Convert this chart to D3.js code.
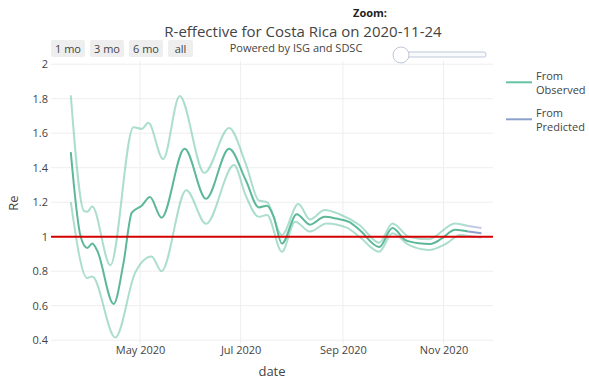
<!DOCTYPE html>
<html><head><meta charset="utf-8">
<script src="https://cdn.jsdelivr.net/npm/d3@7"></script>
<style>body{margin:0;background:#fff;font-family:"Open Sans",sans-serif;}</style>
</head><body><svg id="c" width="589" height="379"></svg>
<script>
// ---- data ----
const midDates = ["2020-03-20","2020-03-26","2020-03-30","2020-04-02","2020-04-05","2020-04-15","2020-04-21","2020-04-26","2020-05-02","2020-05-07","2020-05-14","2020-05-28","2020-06-10","2020-06-24","2020-07-04","2020-07-12","2020-07-17","2020-07-21","2020-07-26","2020-08-04","2020-08-12","2020-08-21","2020-08-28","2020-09-05","2020-09-11","2020-09-23","2020-10-01","2020-10-09","2020-10-17","2020-10-24","2020-10-31","2020-11-08","2020-11-16"];
const midValues = [1.49,1.0,0.935,0.96,0.92,0.61,0.85,1.14,1.18,1.23,1.11,1.51,1.22,1.51,1.33,1.17,1.18,1.116,0.96,1.13,1.07,1.115,1.105,1.085,1.04,0.94,1.05,0.98,0.962,0.958,0.99,1.04,1.03];
const upperDates = ["2020-03-20","2020-03-28","2020-03-30","2020-04-02","2020-04-13","2020-04-27","2020-05-02","2020-05-06","2020-05-15","2020-05-25","2020-06-09","2020-06-24","2020-07-04","2020-07-12","2020-07-17","2020-07-26","2020-08-05","2020-08-12","2020-08-21","2020-08-30","2020-09-11","2020-09-23","2020-10-01","2020-10-11","2020-10-23","2020-11-08","2020-11-16"];
const upperValues = [1.82,1.15,1.145,1.175,0.835,1.635,1.625,1.66,1.45,1.815,1.37,1.63,1.425,1.21,1.2,1.01,1.19,1.10,1.155,1.13,1.068,0.965,1.077,1.0,0.985,1.077,1.062];
const lowerDates = ["2020-03-20","2020-03-30","2020-04-02","2020-04-16","2020-04-28","2020-05-08","2020-05-14","2020-05-29","2020-06-10","2020-06-27","2020-07-04","2020-07-12","2020-07-17","2020-07-26","2020-08-03","2020-08-12","2020-08-22","2020-09-03","2020-09-11","2020-09-23","2020-10-01","2020-10-11","2020-10-23","2020-11-03","2020-11-11","2020-11-16"];
const lowerValues = [1.2,0.76,0.77,0.415,0.79,0.885,0.80,1.27,1.075,1.415,1.24,1.115,1.126,0.913,1.087,1.03,1.077,1.054,1.0,0.913,1.02,0.952,0.923,0.962,1.01,1.004];
const predDates = ["2020-11-16","2020-11-24"];
const predMid = [1.03,1.02];
const predUpper = [1.062,1.05];
const predLower = [1.004,0.995];
const yTicks = [0.4,0.6,0.8,1,1.2,1.4,1.6,1.8,2];
const xTicks = ["2020-05-01","2020-07-01","2020-09-01","2020-11-01"];
const buttons = ["1 mo","3 mo","6 mo","all"];
const legendItems = [["From","Observed"],["From","Predicted"]];

// ---- setup ----
const parse = d3.utcParse("%Y-%m-%d");
const svg = d3.select("#c");
const x = d3.scaleUtc().domain([parse("2020-03-08"), parse("2020-12-01")]).range([51, 493]);
const y = d3.scaleLinear().domain([0.38, 2.02]).range([343.65, 60.75]);
const txt = "#444";
const font = '"Open Sans", sans-serif';

// grid
const g = svg.append("g");
g.selectAll(".hg").data(yTicks).join("line")
  .attr("x1", 51).attr("x2", 493).attr("y1", d => y(d)).attr("y2", d => y(d))
  .attr("stroke", "#eee").attr("stroke-width", 1);
g.selectAll(".vg").data(xTicks).join("line")
  .attr("x1", d => x(parse(d))).attr("x2", d => x(parse(d))).attr("y1", y.range()[1]).attr("y2", y.range()[0])
  .attr("stroke", "#eee").attr("stroke-width", 1);

// axes
const yAxis = d3.axisLeft(y).tickValues(yTicks).tickSize(0).tickPadding(3).tickFormat(d3.format("~g"));
const ya = svg.append("g").attr("transform", "translate(51,0)").call(yAxis);
ya.select(".domain").remove();
ya.selectAll("text").attr("fill", txt).style("font-size", "11px").style("font-family", font);

const xAxis = d3.axisBottom(x).tickValues(xTicks.map(parse)).tickSize(0).tickPadding(0).tickFormat(d3.utcFormat("%b %Y"));
const xa = svg.append("g").attr("transform", "translate(0,346)").call(xAxis);
xa.select(".domain").remove();
xa.selectAll("text").attr("fill", txt).style("font-size", "11px").style("font-family", font);

svg.append("text").attr("x", 272).attr("y", 376).attr("text-anchor", "middle")
  .attr("fill", txt).style("font-size", "13px").style("font-family", font).text("date");
svg.append("text").attr("transform", "translate(18,203) rotate(-90)").attr("text-anchor", "middle")
  .attr("fill", txt).style("font-size", "13px").style("font-family", font).text("Re");

// lines
const line = d3.line().x(d => x(d[0])).y(d => y(d[1])).curve(d3.curveMonotoneX);
const zip = (ds, vs) => ds.map((d, i) => [parse(d), vs[i]]);
const band = "rgba(102,194,165,0.55)";
const predBand = "rgba(141,160,203,0.55)";
svg.append("path").datum(zip(upperDates, upperValues)).attr("d", line).attr("fill", "none").attr("stroke", band).attr("stroke-width", 2);
svg.append("path").datum(zip(lowerDates, lowerValues)).attr("d", line).attr("fill", "none").attr("stroke", band).attr("stroke-width", 2);
svg.append("path").datum(zip(midDates, midValues)).attr("d", line).attr("fill", "none").attr("stroke", "#5cb896").attr("stroke-width", 2);
svg.append("path").datum(zip(predDates, predUpper)).attr("d", line).attr("fill", "none").attr("stroke", predBand).attr("stroke-width", 2);
svg.append("path").datum(zip(predDates, predLower)).attr("d", line).attr("fill", "none").attr("stroke", predBand).attr("stroke-width", 2);
svg.append("path").datum(zip(predDates, predMid)).attr("d", line).attr("fill", "none").attr("stroke", "#8da0cb").attr("stroke-width", 2);

// reference line at 1
svg.append("line").attr("x1", 51).attr("x2", 493).attr("y1", y(1)).attr("y2", y(1))
  .attr("stroke", "#d40000").attr("stroke-width", 2);

// title etc
svg.append("text").attr("x", 303).attr("y", 37).attr("text-anchor", "middle")
  .attr("fill", txt).style("font-size", "15px").style("font-family", font).text("R-effective for Costa Rica on 2020-11-24");
svg.append("text").attr("x", 296).attr("y", 51.5).attr("text-anchor", "middle")
  .attr("fill", txt).style("font-size", "11px").style("font-family", font).text("Powered by ISG and SDSC");
svg.append("text").attr("x", 370).attr("y", 17).attr("text-anchor", "middle")
  .attr("fill", "#222").style("font-size", "11px").style("font-weight", "bold").style("font-family", font).text("Zoom:");

// buttons
const bw = [34, 34, 34, 25];
let bx = 51;
buttons.forEach((b, i) => {
  svg.append("rect").attr("x", bx).attr("y", 40).attr("width", bw[i]).attr("height", 17).attr("rx", 2).attr("fill", "#eee");
  svg.append("text").attr("x", bx + bw[i] / 2).attr("y", 52.5).attr("text-anchor", "middle")
    .attr("fill", txt).style("font-size", "11px").style("font-family", font).text(b);
  bx += bw[i] + 5;
});

// slider
svg.append("rect").attr("x", 401).attr("y", 52).attr("width", 85).attr("height", 5).attr("rx", 2)
  .attr("fill", "#f8fafc").attr("stroke", "#bec8d9").attr("stroke-width", 1);
svg.append("circle").attr("cx", 401).attr("cy", 55).attr("r", 8)
  .attr("fill", "#fff").attr("stroke", "#bec8d9").attr("stroke-width", 1);

// legend
const lc = ["#66c2a5", "#8da0cb"];
legendItems.forEach((it, i) => {
  const ly = 82.3 + i * 37;
  svg.append("line").attr("x1", 506).attr("x2", 532).attr("y1", ly).attr("y2", ly).attr("stroke", lc[i]).attr("stroke-width", 2);
  const t = svg.append("text").attr("x", 536).attr("y", ly - 2).attr("fill", txt).style("font-size", "11px").style("font-family", font);
  t.append("tspan").attr("x", 536).text(it[0]);
  t.append("tspan").attr("x", 536).attr("dy", 13.5).text(it[1]);
});
</script></body></html>
